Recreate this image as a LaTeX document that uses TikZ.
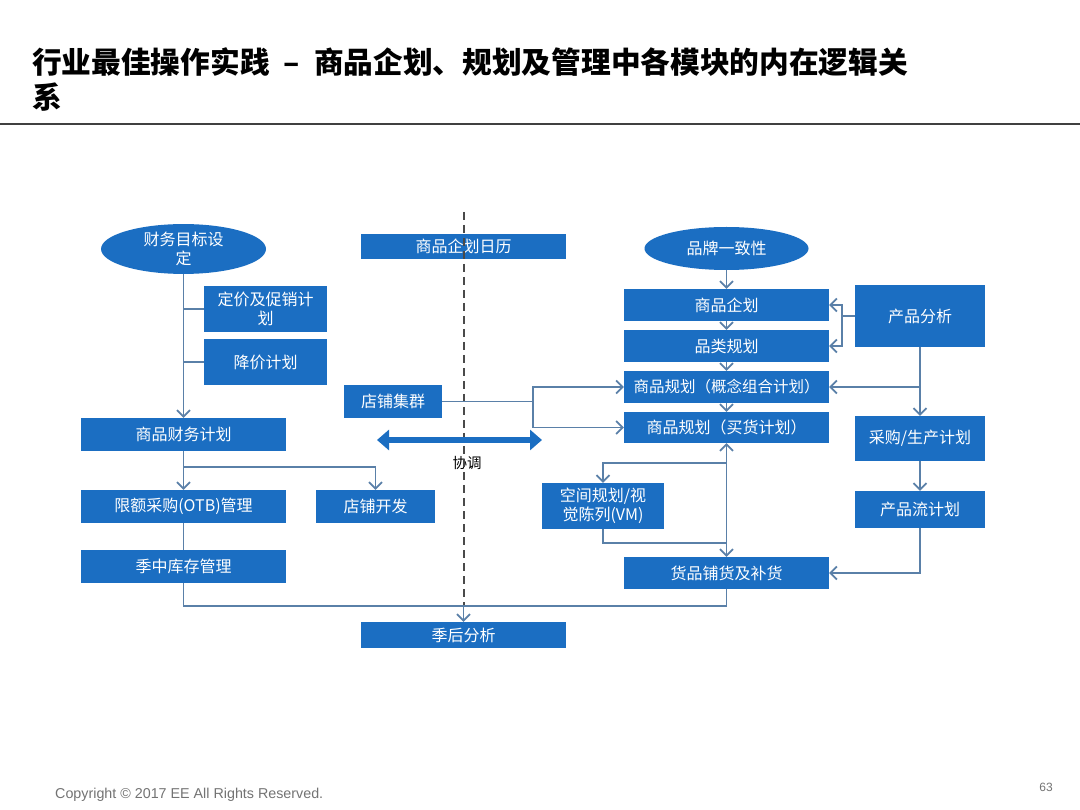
\documentclass[tikz,border=0pt]{standalone}
\usepackage{fontspec}
\setmainfont{Liberation Sans}
\newfontfamily\cjk{Noto Sans CJK SC}
\usetikzlibrary{arrows.meta,shapes.geometric}
\definecolor{boxblue}{HTML}{1B6EC2}
\definecolor{linec}{HTML}{5A80A8}
\definecolor{dashc}{HTML}{4A4A4A}
\begin{document}
\begin{tikzpicture}[x=1pt,y=-1pt,
  box/.style={fill=boxblue, text=white, inner sep=1pt, align=center,
    font=\cjk\fontsize{16}{18.5}\selectfont},
  oval/.style={box, ellipse},
  conn/.style={draw=linec, line width=1.7pt},
  arr/.style={conn, -{Straight Barb[length=6.5pt,width=13pt]}},
  dbarr/.style={conn, {Straight Barb[length=6.5pt,width=13pt]}-{Straight Barb[length=6.5pt,width=13pt]}},
  dashln/.style={draw=dashc, line width=2pt, dash pattern=on 8pt off 5pt},
  ttl/.style={anchor=west, inner sep=0, font=\cjk\bfseries\fontsize{29.7}{34}\selectfont}
]
\useasboundingbox (0,0) rectangle (1080,810);
\fill[white] (0,0) rectangle (1080,810);

% title
\node[ttl] (t1) at (32,62) {行业最佳操作实践\hspace{14pt}–\hspace{14pt}商品企划、规划及管理中各模块的内在逻辑关};
\node[ttl] (t2) at (32,97) {系};
\coordinate (hl) at (0,124);
\coordinate (hr) at (1080,124);
\draw[line width=1.5pt, black!75] (hl) -- (hr);

% left column
\node[oval, minimum width=165pt, minimum height=46pt] (e1) at (183.5,249) {财务目标设\\定};
\node[box, minimum width=123pt, minimum height=46pt] (pricing) at (265.5,309) {定价及促销计\\划};
\node[box, minimum width=123pt, minimum height=46pt] (markdown) at (265.5,362) {降价计划};
\node[box, minimum width=205pt, minimum height=33pt] (fin) at (183.5,434.5) {商品财务计划};
\node[box, minimum width=205pt, minimum height=33pt] (otb) at (183.5,506.5) {限额采购(OTB)管理};
\node[box, minimum width=119pt, minimum height=33pt] (storedev) at (375.5,506.5) {店铺开发};
\node[box, minimum width=205pt, minimum height=33pt] (inseason) at (183.5,566.5) {季中库存管理};

% center
\node[box, minimum width=205pt, minimum height=25pt] (cal) at (463.5,246.5) {商品企划日历};
\node[box, minimum width=98pt, minimum height=33pt] (cluster) at (393,401.5) {店铺集群};
\node[box, minimum width=205pt, minimum height=26pt] (post) at (463.5,635) {季后分析};
\node[inner sep=0, font=\cjk\fontsize{14.5}{16}\selectfont] (coord) at (467,463) {协调};

% right column
\node[oval, minimum width=164pt, minimum height=43pt] (e2) at (726.5,248.5) {品牌一致性};
\node[box, minimum width=205pt, minimum height=32pt] (r1) at (726.5,305) {商品企划};
\node[box, minimum width=205pt, minimum height=32pt] (r2) at (726.5,346) {品类规划};
\node[box, minimum width=205pt, minimum height=32pt, font=\cjk\fontsize{15.5}{18}\selectfont] (r3) at (726.5,387) {商品规划（概念组合计划）};
\node[box, minimum width=205pt, minimum height=31pt] (r4) at (726.5,427.5) {商品规划（买货计划）};
\node[box, minimum width=130pt, minimum height=62pt] (pa) at (920,316) {产品分析};
\node[box, minimum width=130pt, minimum height=45pt] (pp) at (920,438.5) {采购/生产计划};
\node[box, minimum width=130pt, minimum height=37pt] (pf) at (920,509.5) {产品流计划};
\node[box, minimum width=122pt, minimum height=46pt] (vm) at (603,506) {空间规划/视\\觉陈列(VM)};
\node[box, minimum width=205pt, minimum height=32pt] (dist) at (726.5,573) {货品铺货及补货};

% coordinates
\coordinate (j1) at (183.5,467);
\coordinate (j2) at (183.5,606);
\coordinate (j3) at (463.5,606);
\coordinate (jd) at (726.5,606);
\coordinate (dtop) at (463.5,212);
\coordinate (cb) at (533,401.5);
\coordinate (pb) at (842,316);
\coordinate (pj) at (920,387);
\coordinate (vj) at (726.5,463);
\coordinate (vj2) at (726.5,543);
\coordinate (da1) at (377,440);
\coordinate (da2) at (542,440);

% dashed divider
\draw[dashln] (dtop) -- (j3);

% left connectors
\draw[arr] (e1.south) -- (fin.north);
\draw[conn] (e1.south |- pricing.west) -- (pricing.west);
\draw[conn] (e1.south |- markdown.west) -- (markdown.west);
\draw[arr] (fin.south) -- (otb.north);
\draw[arr] (j1) -| (storedev.north);
\draw[conn] (otb.south) -- (inseason.north);
\draw[conn] (inseason.south) -- (j2) -- (jd) -- (dist.south);
\draw[arr] (j3) -- (post.north);

% center connectors
\draw[conn] (cluster.east) -- (cb);
\draw[arr] (cb) |- (r3.west);
\draw[arr] (cb) |- (r4.west);
\draw[boxblue, line width=6pt, {Triangle[length=12pt,width=20pt]}-{Triangle[length=12pt,width=20pt]}] (da1) -- (da2);

% right connectors
\draw[arr] (e2.south) -- (r1.north);
\draw[arr] (r1.south) -- (r2.north);
\draw[arr] (r2.south) -- (r3.north);
\draw[arr] (r3.south) -- (r4.north);
\draw[conn] (pa.west) -- (pb);
\draw[arr] (pb) |- (r1.east);
\draw[arr] (pb) |- (r2.east);
\draw[arr] (pa.south) -- (pp.north);
\draw[arr] (pj) -- (r3.east);
\draw[arr] (pp.south) -- (pf.north);
\draw[arr] (pf.south) |- (dist.east);
\draw[dbarr] (r4.south) -- (dist.north);
\draw[arr] (vj) -| (vm.north);
\draw[conn] (vm.south) |- (vj2);

% footer
\node[anchor=west, inner sep=0, text=black!55, font=\fontsize{14.3}{16}\selectfont] (copy) at (55,795) {Copyright © 2017 EE All Rights Reserved.};
\node[inner sep=0, text=black!55, font=\fontsize{12}{14}\selectfont] (pg) at (1046,787) {63};
\end{tikzpicture}
\end{document}
